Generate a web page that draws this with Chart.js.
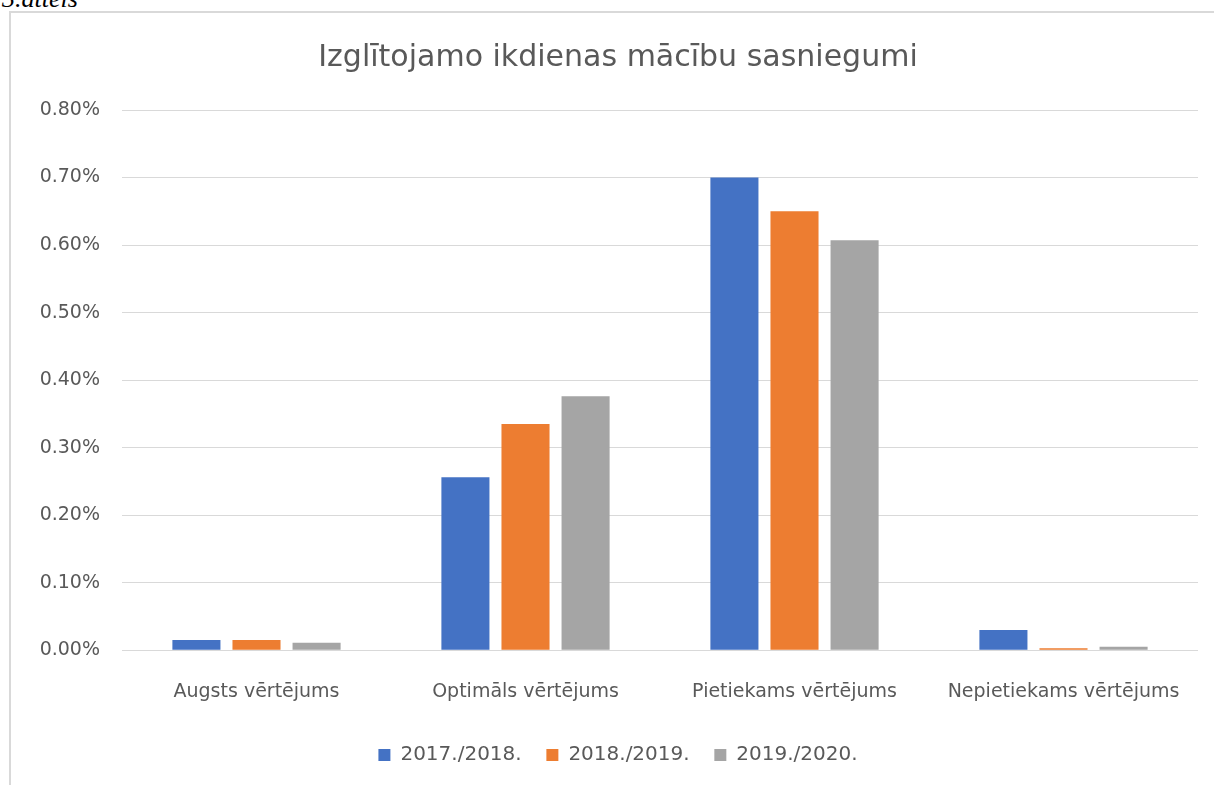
<!DOCTYPE html>
<html>
<head>
<meta charset="utf-8">
<script src="https://cdn.jsdelivr.net/npm/chart.js@4"></script>
<style>
  body { margin: 0; background: #fff; width: 1214px; height: 785px; overflow: hidden; position: relative; }
  #caption { position: absolute; left: 2px; top: -16px; font: italic 26px "Liberation Serif", serif; color: #000; }
  #frame { position: absolute; left: 9px; top: 11px; width: 1210px; height: 780px; border: 2px solid #d9d9d9; box-sizing: border-box; }
  #wrap { position: absolute; left: 2px; top: 2px; width: 1203px; height: 772px; }
</style>
</head>
<body>
<div id="caption">3.attēls</div>
<div id="frame">
  <div id="wrap"><canvas id="myChart"></canvas></div>
</div>
<script>
const categories = ['Augsts vērtējums', 'Optimāls vērtējums', 'Pietiekams vērtējums', 'Nepietiekams vērtējums'];
const seriesNames = ['2017./2018.', '2018./2019.', '2019./2020.'];
const values2017 = [0.015, 0.256, 0.70, 0.030];
const values2018 = [0.015, 0.335, 0.65, 0.003];
const values2019 = [0.011, 0.376, 0.607, 0.005];
const colors = ['#4472C4', '#ED7D31', '#A5A5A5'];

const textColor = '#595959';
const fontFamily = '"DejaVu Sans", sans-serif';

const createChart = () => {
  const ctx = document.getElementById('myChart').getContext('2d');

  const data = {
    labels: categories,
    datasets: [values2017, values2018, values2019].map((vals, i) => ({
      label: seriesNames[i],
      data: vals,
      backgroundColor: colors[i],
      categoryPercentage: 0.67,
      barPercentage: 0.8,
    })),
  };

  const options = {
    responsive: true,
    maintainAspectRatio: false,
    animation: false,
    // left padding nudges title/legend right, y axis width compensates
    layout: { padding: { left: 25, right: 18, bottom: 12 } },
    plugins: {
      title: {
        display: true,
        text: 'Izglītojamo ikdienas mācību sasniegumi',
        color: textColor,
        font: { family: fontFamily, size: 30, weight: 'normal' },
        padding: { top: 25, bottom: 34 },
      },
      legend: {
        position: 'bottom',
        labels: {
          color: textColor,
          font: { family: fontFamily, size: 20 },
          boxWidth: 12,
          boxHeight: 12,
          padding: 12,
          generateLabels: (chart) => {
            const items = Chart.defaults.plugins.legend.labels.generateLabels(chart);
            items.forEach((it, i) => { if (i < items.length - 1) it.text = it.text + '  '; });
            return items;
          },
        },
      },
      tooltip: { enabled: false },
    },
    scales: {
      x: {
        grid: { display: false, drawTicks: false },
        border: { display: false },
        ticks: { color: textColor, font: { family: fontFamily, size: 19 }, padding: 30 },
      },
      y: {
        min: 0,
        max: 0.8,
        ticks: {
          stepSize: 0.1,
          color: textColor,
          font: { family: fontFamily, size: 19 },
          padding: 22,
          callback: (v) => v.toFixed(2) + '%',
        },
        grid: { color: '#d9d9d9', drawTicks: false },
        border: { display: false },
        afterFit: (scale) => { scale.width = 84; },
      },
    },
  };

  new Chart(ctx, { type: 'bar', data: data, options: options });
};

createChart();
</script>
</body>
</html>
